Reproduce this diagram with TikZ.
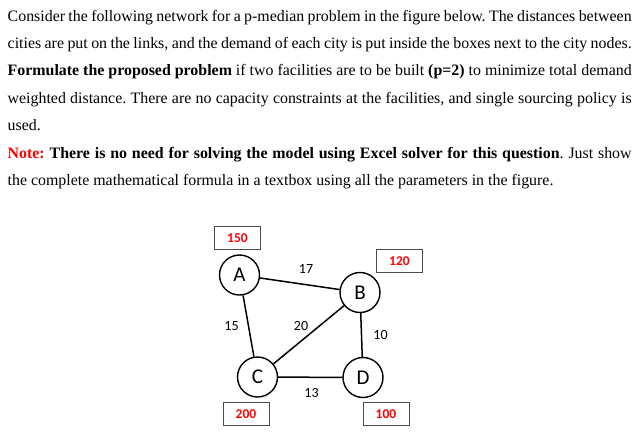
\documentclass[tikz,border=0pt]{standalone}
\usepackage{fontspec}
\setmainfont{Liberation Serif}
\newfontfamily\diagfont{Carlito}
\usepackage{xcolor}
\frenchspacing
\begin{document}
\begin{tikzpicture}[x=1pt,y=-1pt,
  txt/.style={anchor=base west,inner sep=0pt,font=\fontsize{15.9}{18}\selectfont},
  city/.style={circle,draw,line width=1.4pt,minimum size=40pt,inner sep=0pt,font=\diagfont\fontsize{21}{24}\selectfont},
  dem/.style={draw=black!70,line width=0.8pt,minimum width=46pt,minimum height=23pt,inner sep=0pt,text=red,font=\diagfont\bfseries\fontsize{13.5}{16}\selectfont},
  dist/.style={inner sep=0pt,font=\diagfont\fontsize{14}{16}\selectfont},
  link/.style={line width=1.5pt}]
\useasboundingbox (0,0) rectangle (638,445);
\node[txt] (l1) at (7.5,21) {\makebox[624pt][s]{Consider the following network for a p-median problem in the figure below. The distances between}};
\node[txt] (l2) at (7.5,48) {\makebox[624pt][s]{cities are put on the links, and the demand of each city is put inside the boxes next to the city nodes.}};
\node[txt] (l3) at (7.5,75.5) {\makebox[624pt][s]{\textbf{Formulate the proposed problem} if two facilities are to be built \textbf{(p=2)} to minimize total demand}};
\node[txt] (l4) at (7.5,103) {\makebox[624pt][s]{weighted distance. There are no capacity constraints at the facilities, and single sourcing policy is}};
\node[txt] (l5) at (7.5,130.5) {used.};
\node[txt] (l6) at (7.5,158) {\makebox[624pt][s]{\textcolor{red}{\textbf{Note:}} \textbf{There is no need for solving the model using Excel solver for this question}. Just show}};
\node[txt] (l7) at (7.5,185.5) {the complete mathematical formula in a textbox using all the parameters in the figure.};

\node[city] (A) at (239.5,275) {A};
\node[city] (B) at (360,292.5) {B};
\node[city] (C) at (257.5,377) {C};
\node[city] (D) at (363,377.5) {D};

\draw[link] (A) -- (B);
\draw[link] (A) -- (C);
\draw[link] (B) -- (C);
\draw[link] (B) -- (D);
\draw[link] (C) -- (D);

\node[dist] (dAB) at (306,268.5) {17};
\node[dist] (dAC) at (231.5,326.5) {15};
\node[dist] (dBC) at (301,326.5) {20};
\node[dist] (dBD) at (380.5,335) {10};
\node[dist] (dCD) at (311.5,392.5) {13};

\node[dem] (wA) at (237.5,238) {150};
\node[dem] (wB) at (399.5,261) {120};
\node[dem] (wC) at (246,414) {200};
\node[dem] (wD) at (386,414) {100};
\end{tikzpicture}
\end{document}
